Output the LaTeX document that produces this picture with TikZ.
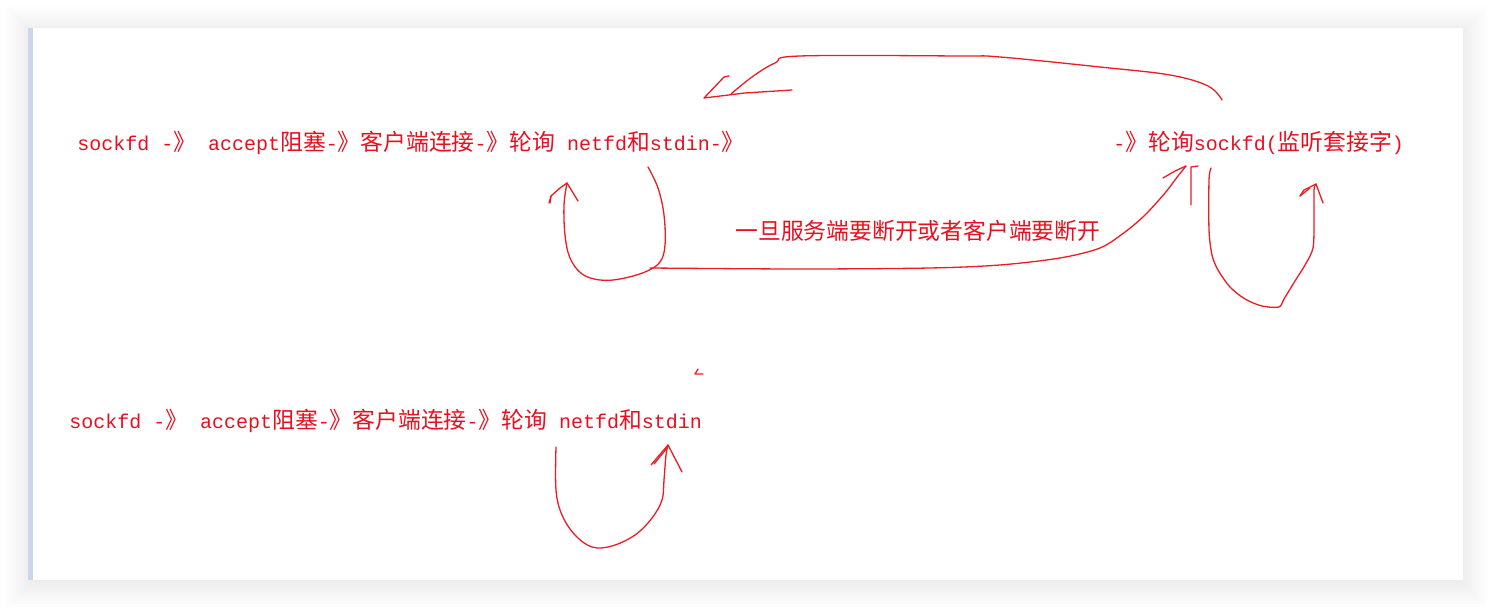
\documentclass[tikz,border=0pt]{standalone}
\usepackage{fontspec}
\setmainfont{Liberation Mono}
\newfontfamily\zhfont[Scale=1.14]{Noto Sans CJK SC}
\newcommand{\zh}[1]{{\zhfont #1}}
\usetikzlibrary{positioning}
\definecolor{inkred}{RGB}{236,28,36}
\definecolor{txtred}{RGB}{232,16,32}
\definecolor{leftbar}{RGB}{203,214,232}

\begin{document}
\begin{tikzpicture}[x=0.5pt,y=-0.5pt,
  label/.style={text=txtred, font=\fontsize{10}{12}\selectfont, inner sep=0pt, anchor=base west},
  pen/.style={draw=inkred, line width=0.65pt, line cap=round, line join=round}]
\useasboundingbox (0,0) rectangle (1492,609);

% Page, card shadow and card
\fill[white] (0,0) rectangle (1492,609);
\foreach \d in {24,21,...,0}
  \fill[black, opacity=0.006] (30-\d,28-\d+3) rectangle (1463+\d,580+\d+3);
\fill[white] (30,28) rectangle (1463,580);
\fill[leftbar] (28,28) rectangle (33,580);

% Texts
\node[label] (row1) at (77,151) {sockfd -\zh{》} accept\zh{阻塞}-\zh{》客户端连接}-\zh{》轮询} netfd\zh{和}stdin-\zh{》}};
\node[label] (poll) at (1113,151) {-\zh{》轮询}sockfd(\zh{监听套接字})};
\node[label] (note) at (735,240) {\zh{一旦服务端要断开或者客户端要断开}};
\node[label] (row2) at (69,428) {sockfd -\zh{》} accept\zh{阻塞}-\zh{》客户端连接}-\zh{》轮询} netfd\zh{和}stdin};

% Return arc over the top
\coordinate (arcA) at (1222,100);
\coordinate (arcB) at (731,94);
\draw[pen] plot[smooth, tension=0.6] coordinates {(arcA) (1208,86) (1170,75) (1100,67) (1000,57) (960,56) (800,56) (775,63) (752,77) (arcB)};
\draw[pen] (792,90) -- (745,93) -- (704,98) -- (724,77) -- (729,76);

% Loop under netfd (first row)
\coordinate (lpA) at (648,167);
\coordinate (lpB) at (567,183);
\draw[pen] plot[smooth, tension=0.6] coordinates {(lpA) (658,188) (664,215) (665,245) (660,262) (645,272) (620,279) (600,280) (582,274) (570,258) (565,235) (564,205) (lpB)};
\draw[pen] (549,203) -- (551,196) -- (560,188) -- (lpB) -- (578,201);
\draw[pen] (551,196) -- (550,203);

% Disconnect path to sockfd
\coordinate (dcA) at (650,268);
\coordinate (dcB) at (1186,166);
\draw[pen] plot[smooth, tension=0.5] coordinates {(dcA) (800,269) (930,268) (1000,265) (1060,258) (1100,248) (1125,232) (1145,215) (1165,193) (1178,176) (dcB)};
\draw[pen] (1163,178) -- (1175,171) -- (dcB);
\draw[pen] (1191,205) -- (1191,167) -- (1198,166);

% Loop under sockfd
\coordinate (rpA) at (1211,168);
\coordinate (rpB) at (1316,184);
\draw[pen] plot[smooth, tension=0.5] coordinates {(rpA) (1209,180) (1209,230) (1212,255) (1218,270) (1230,287) (1245,299) (1262,306) (1279,307) (1284,299) (1295,281) (1305,265) (1313,248) (1314,220) (1314,190) (rpB)};
\draw[pen] (1300,196) -- (1304,190) -- (rpB) -- (1323,203);
\draw[pen] (1300,196) -- (1310,188);

% Loop under netfd (second row)
\coordinate (bpA) at (556,447);
\coordinate (bpB) at (668,445);
\draw[pen] plot[smooth, tension=0.6] coordinates {(bpA) (556,490) (562,515) (575,535) (592,547) (612,546) (635,535) (652,518) (662,500) (664,480) (666,455) (bpB)};
\draw[pen] (651,465) -- (bpB) -- (682,472);
\draw[pen] (654,464) -- (667,448);
\draw[pen] (698,369) -- (695,374) -- (703,374);
\end{tikzpicture}
\end{document}
